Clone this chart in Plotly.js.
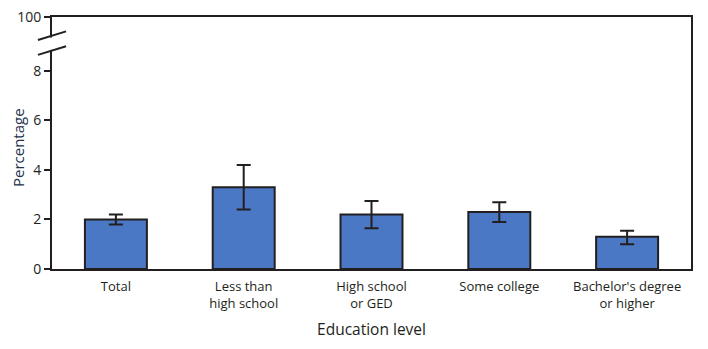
<!DOCTYPE html>
<html><head><meta charset="utf-8">
<script src="https://cdn.plot.ly/plotly-3.0.1.min.js"></script>
<style>html,body{margin:0;padding:0;background:#fff}#chart{width:708px;height:349px}</style>
</head><body><div id="chart"></div>
<script>
const categories = ["Total", "Less than<br>high school", "High school<br>or GED", "Some college", "Bachelor's degree<br>or higher"];
const values = [2.0, 3.3, 2.2, 2.3, 1.3];
const ciLower = [1.8, 2.4, 1.65, 1.9, 1.0];
const ciUpper = [2.2, 4.2, 2.75, 2.7, 1.55];
const yTickVals = [0, 2, 4, 6, 8, 10.18];
const yTickText = ["0", "2", "4", "6", "8", "100"];

const trace = {
  type: 'bar',
  x: categories,
  y: values,
  width: 0.485,
  marker: {color: '#4a78c4', line: {color: '#231f20', width: 2}},
  error_y: {
    type: 'data', symmetric: false,
    array: values.map((v, i) => ciUpper[i] - v),
    arrayminus: values.map((v, i) => v - ciLower[i]),
    color: '#231f20', thickness: 2, width: 7
  },
  hoverinfo: 'none'
};

const fam = '"Open Sans", "Liberation Sans", sans-serif';
const font = {family: fam, size: 13, color: '#231f20'};

const layout = {
  width: 708, height: 349,
  margin: {l: 52, r: 17, t: 17, b: 80},
  paper_bgcolor: '#fff', plot_bgcolor: '#fff',
  font: font,
  showlegend: false,
  xaxis: {
    range: [-0.5, 4.5], showline: true, linecolor: '#231f20', linewidth: 2, mirror: true,
    ticks: '', showgrid: false, zeroline: false, tickfont: font, ticklabelstandoff: 4,
    title: {text: 'Education level', font: {family: fam, size: 15.5, color: '#231f20'}, standoff: 14}
  },
  yaxis: {
    range: [0, 10.18], tickvals: yTickVals, ticktext: yTickText,
    showline: true, linecolor: '#231f20', linewidth: 2, mirror: true,
    ticks: 'outside', ticklen: 6, tickwidth: 2, tickcolor: '#231f20',
    showgrid: false, zeroline: false, tickfont: {family: fam, size: 14, color: '#231f20'}
  },
  annotations: [
    {text: 'Percentage', xref: 'paper', yref: 'paper', x: 0, y: 0.48, xshift: -34,
     xanchor: 'center', yanchor: 'middle', textangle: -90, showarrow: false,
     font: {family: fam, size: 15, color: '#22304a'}}
  ],
  shapes: [
    {type: 'rect', xref: 'paper', yref: 'y', x0: -0.01, x1: 0.01, y0: 8.85, y1: 9.35, fillcolor: '#fff', line: {width: 0}, layer: 'above'},
    {type: 'line', xref: 'paper', yref: 'y', x0: -0.022, x1: 0.022, y0: 8.65, y1: 9.0, line: {color: '#231f20', width: 2}, layer: 'above'},
    {type: 'line', xref: 'paper', yref: 'y', x0: -0.022, x1: 0.022, y0: 9.25, y1: 9.6, line: {color: '#231f20', width: 2}, layer: 'above'}
  ]
};

Plotly.newPlot('chart', [trace], layout, {displayModeBar: false, staticPlot: true});
</script></body></html>
